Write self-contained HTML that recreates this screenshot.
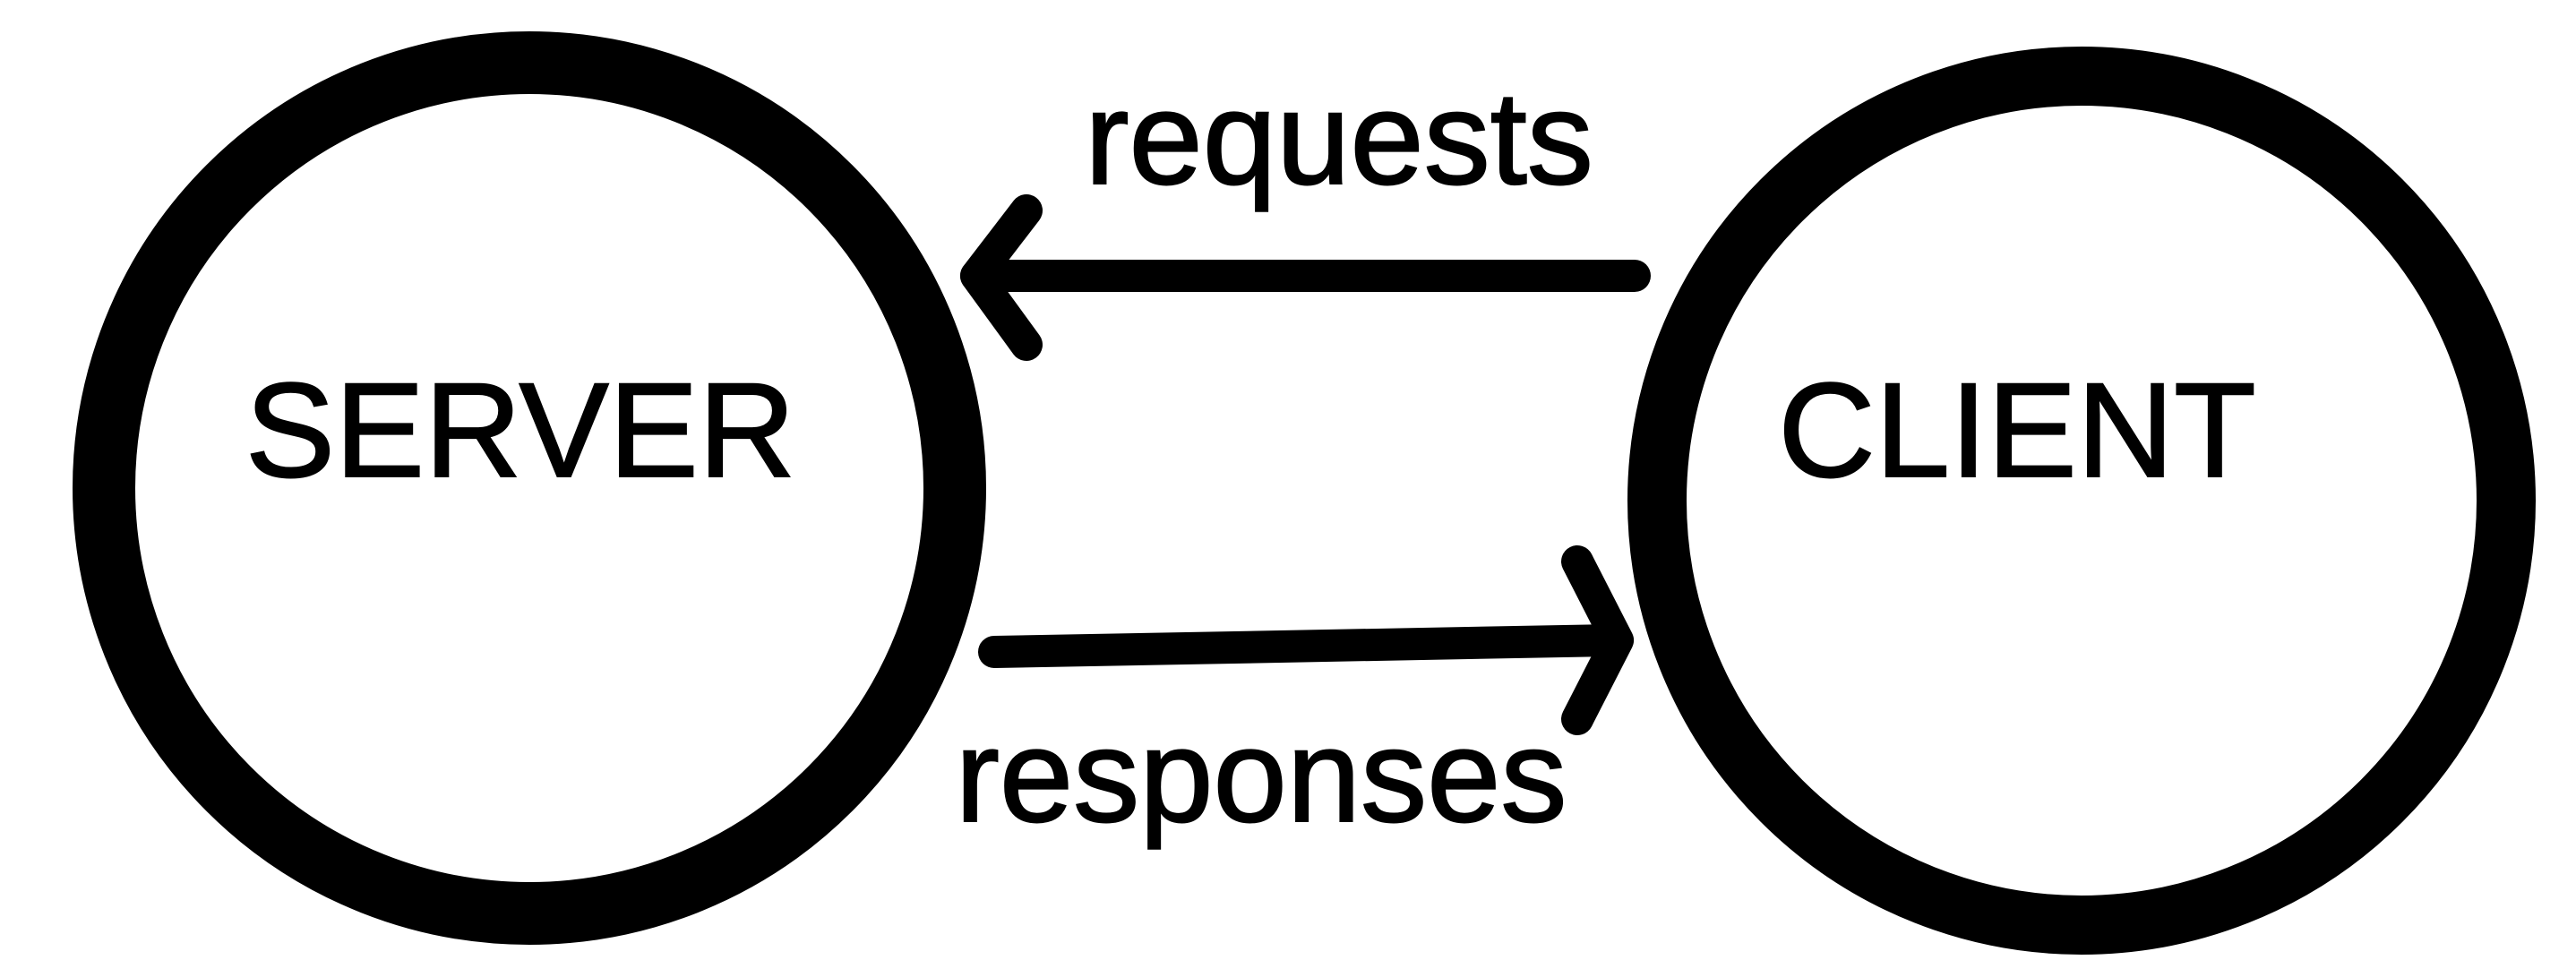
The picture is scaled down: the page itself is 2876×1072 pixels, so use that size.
<!DOCTYPE html>
<html><head><style>
html,body{margin:0;padding:0;background:#fff;}
svg{display:block;}
text{font-family:"Liberation Sans",sans-serif;fill:#000;stroke:#000;stroke-width:2;}
</style></head><body>
<svg width="2876" height="1072" viewBox="0 0 2876 1072" xmlns="http://www.w3.org/2000/svg">
<rect width="2876" height="1072" fill="#fff"/>
<circle cx="591" cy="545" r="475" fill="none" stroke="#000" stroke-width="70"/>
<circle cx="2324" cy="559" r="474" fill="none" stroke="#000" stroke-width="66"/>
<text x="581" y="532" font-size="150" text-anchor="middle">SERVER</text>
<text x="2252" y="532" font-size="150" text-anchor="middle">CLIENT</text>
<text x="1495" y="205" font-size="148" text-anchor="middle">requests</text>
<text x="1408" y="917" font-size="148" text-anchor="middle">responses</text>
<g stroke="#000" stroke-width="36" stroke-linecap="round" stroke-linejoin="round" fill="none">
<line x1="1825" y1="308" x2="1090" y2="308"/>
<polyline points="1146,235 1090,308 1146,385"/>
<line x1="1110" y1="728" x2="1800" y2="715"/>
<polyline points="1761,627 1806,715 1761,803"/>
</g>
</svg>
</body></html>
